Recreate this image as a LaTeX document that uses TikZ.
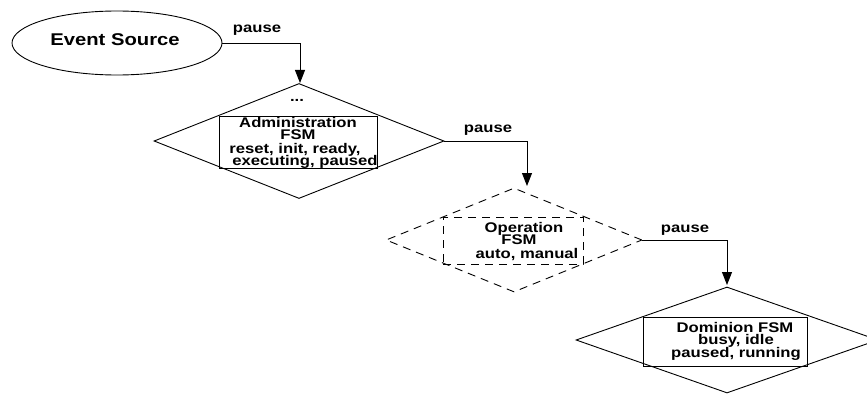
\documentclass[tikz,border=0pt]{standalone}
\usepackage{fontspec}
\setmainfont{Liberation Sans}
\usetikzlibrary{shapes.geometric, arrows.meta}
% bold labels are set slightly wide
\newcommand{\stretchtxt}[1]{\scalebox{1.19}[1]{#1}}
\begin{document}
\begin{tikzpicture}[x=1pt, y=-1pt, line width=0.9pt,
  lbl/.style={font=\fontsize{14}{14}\selectfont\bfseries, inner sep=0pt, anchor=base},
  fsmdiamond/.style={diamond, draw, inner sep=0pt},
  statebox/.style={rectangle, draw, inner sep=0pt},
  dashline/.style={dash pattern=on 8pt off 6pt},
  flow/.style={-{Triangle[length=13pt,width=10pt]}}]
\useasboundingbox (0,0) rectangle (867,396);

% event source
\node[ellipse, draw, inner sep=0pt, minimum width=210pt, minimum height=64pt] (src) at (117,43) {};
\node[lbl] (srcname) at (115,46) {\fontsize{17}{17}\selectfont\stretchtxt{Event Source}};

% administration FSM
\node[fsmdiamond, minimum width=290pt, minimum height=115pt] (adm) at (299,141) {};
\node[statebox, minimum width=158pt, minimum height=52pt] (admbox) at (298,142) {};
\node[lbl] (admdots) at (297,101) {\stretchtxt{...}};
\node[lbl] (adm1) at (298,127) {\stretchtxt{Administration}};
\node[lbl] (adm2) at (298,139) {\stretchtxt{FSM}};
\node[lbl] (adm3) at (295,153) {\stretchtxt{reset, init, ready,}};
\node[lbl] (adm4) at (305,165) {\stretchtxt{executing, paused}};

% operation FSM
\node[fsmdiamond, dashline, minimum width=256pt, minimum height=104pt] (op) at (514,240) {};
\node[statebox, dashline, minimum width=140pt, minimum height=47pt] (opbox) at (513,240.5) {};
\node[lbl] (op1) at (524,232) {\stretchtxt{Operation}};
\node[lbl] (op2) at (519,244) {\stretchtxt{FSM}};
\node[lbl] (op3) at (527,258) {\stretchtxt{auto, manual}};

% dominion FSM
\node[fsmdiamond, minimum width=302pt, minimum height=106pt] (dom) at (727,340) {};
\node[statebox, minimum width=164pt, minimum height=49pt] (dombox) at (725,341.5) {};
\node[lbl] (dom1) at (735,332) {\stretchtxt{Dominion FSM}};
\node[lbl] (dom2) at (736,344) {\stretchtxt{busy, idle}};
\node[lbl] (dom3) at (736,357) {\stretchtxt{paused, running}};

% pause transitions
\coordinate (in1) at (300,83);
\coordinate (in2) at (527,186);
\coordinate (in3) at (727,285);
\draw[flow] (src.east) -| (in1);
\draw[flow] (adm.east) -| (in2);
\draw[flow] (op.east) -| (in3);
\node[lbl] (p1) at (257,33) {\stretchtxt{pause}};
\node[lbl] (p2) at (488,132) {\stretchtxt{pause}};
\node[lbl] (p3) at (685,232) {\stretchtxt{pause}};
\end{tikzpicture}
\end{document}
